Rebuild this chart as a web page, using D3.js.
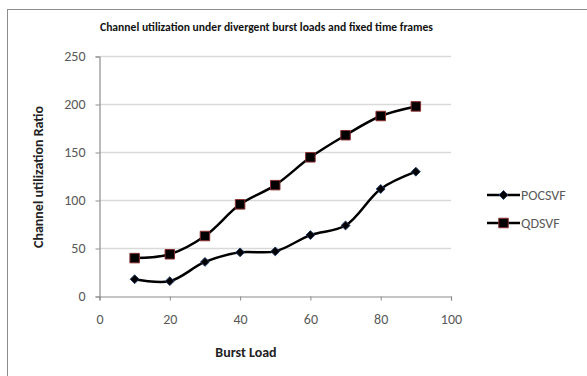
<!DOCTYPE html>
<html><head><meta charset="utf-8">
<script src="https://cdn.jsdelivr.net/npm/d3@7"></script>
<style>body{margin:0;background:#fff}svg{display:block}</style>
</head><body>
<svg id="c" width="587" height="376"></svg>
<script>
const burstLoad = [10, 20, 30, 40, 50, 60, 70, 80, 90];
const pocsvf = [18, 16, 36, 46, 47, 64, 74, 112, 130];
const qdsvf = [40, 44, 63, 96, 116, 145, 168, 188, 198];
const seriesNames = ["POCSVF", "QDSVF"];
const xTicks = [0, 20, 40, 60, 80, 100];
const yTicks = [0, 50, 100, 150, 200, 250];
const titleText = "Channel utilization under divergent burst loads and fixed time frames";

const svg = d3.select("#c");
const font = "Carlito, Calibri, 'Open Sans', 'Liberation Sans', sans-serif";
// frame
svg.append("rect").attr("x", 7.5).attr("y", 9.5).attr("width", 590).attr("height", 380)
  .attr("fill", "none").attr("stroke", "#8c8c8c").attr("stroke-width", 1);

const x = d3.scaleLinear().domain([0, 100]).range([99.5, 451]);
const y = d3.scaleLinear().domain([0, 250]).range([296.5, 56.5]);

// gridlines
svg.append("g").selectAll("line").data(yTicks.filter(d => d > 0)).join("line")
  .attr("x1", x(0)).attr("x2", x(100)).attr("y1", d => y(d)).attr("y2", d => y(d))
  .attr("stroke", "#d9d9d9").attr("stroke-width", 1.5);

const yAxis = svg.append("g").attr("transform", `translate(${x(0)},0)`)
  .call(d3.axisLeft(y).tickValues(yTicks).tickSize(4).tickPadding(8));
const xAxis = svg.append("g").attr("transform", `translate(0,${y(0)})`)
  .call(d3.axisBottom(x).tickValues(xTicks).tickSize(4).tickPadding(14));
[yAxis, xAxis].forEach(g => {
  g.select(".domain").attr("stroke", "#8c8c8c").attr("stroke-width", 1.2);
  g.selectAll(".tick line").attr("stroke", "#8c8c8c");
  g.selectAll("text").attr("fill", "#595959").style("font-family", font).style("font-size", "14px");
});
yAxis.selectAll(".tick text").attr("dx", "-2");

// title
svg.append("text").attr("x", 266.5).attr("y", 31).attr("text-anchor", "middle")
  .attr("textLength", 333).attr("lengthAdjust", "spacingAndGlyphs")
  .style("font-family", font).style("font-size", "11px").style("font-weight", "bold")
  .attr("fill", "#111").text(titleText);

svg.append("text").attr("transform", "translate(43,177) rotate(-90)").attr("text-anchor", "middle")
  .style("font-family", font).style("font-size", "14px").style("font-weight", "bold")
  .attr("fill", "#222").text("Channel utilization Ratio");
svg.append("text").attr("x", 246).attr("y", 357).attr("text-anchor", "middle")
  .style("font-family", font).style("font-size", "14px").style("font-weight", "bold")
  .attr("fill", "#222").text("Burst Load");

const line = d3.line().x(d => x(d[0])).y(d => y(d[1])).curve(d3.curveCatmullRom.alpha(0.5));
const data = [pocsvf, qdsvf].map(v => burstLoad.map((b, i) => [b, v[i]]));

const diamond = d3.symbol().type(d3.symbolDiamond2).size(50);
const square = d3.symbol().type(d3.symbolSquare).size(90);
const markStyles = [
  {sym: diamond, stroke: "#1f3864"},
  {sym: square, stroke: "#8b2e2e"}
];

data.forEach((pts, k) => {
  svg.append("path").attr("d", line(pts)).attr("fill", "none").attr("stroke", "#000").attr("stroke-width", 2.5);
  svg.append("g").selectAll("path").data(pts).join("path")
    .attr("transform", d => `translate(${x(d[0])},${y(d[1])})`)
    .attr("d", markStyles[k].sym()).attr("fill", "#000")
    .attr("stroke", markStyles[k].stroke).attr("stroke-width", 1);
});

// legend
const lg = svg.append("g");
seriesNames.forEach((n, k) => {
  const ly = 195 + k * 28;
  lg.append("line").attr("x1", 487).attr("x2", 520).attr("y1", ly).attr("y2", ly)
    .attr("stroke", "#000").attr("stroke-width", 2.5);
  lg.append("path").attr("transform", `translate(503.5,${ly})`).attr("d", markStyles[k].sym())
    .attr("fill", "#000").attr("stroke", markStyles[k].stroke).attr("stroke-width", 1);
  lg.append("text").attr("x", 521).attr("y", ly + 5)
    .style("font-family", font).style("font-size", "14px").attr("fill", "#595959").text(n);
});
</script>
</body></html>
